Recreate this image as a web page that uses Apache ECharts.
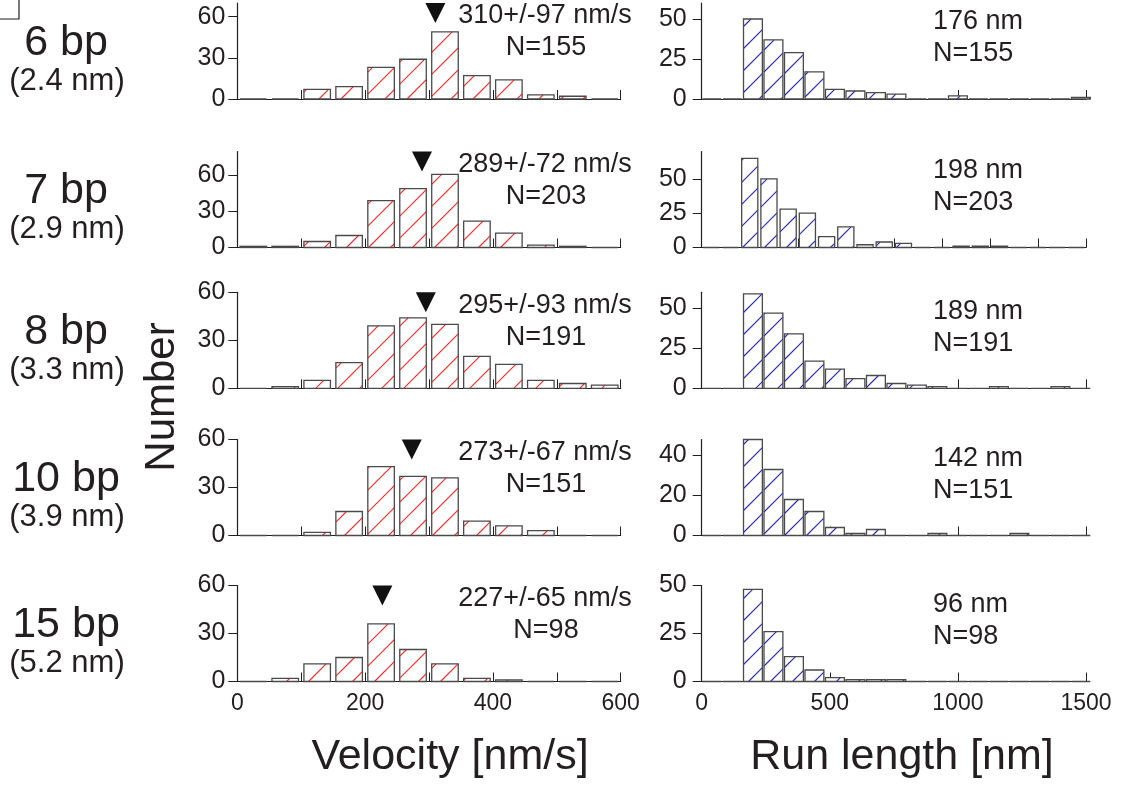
<!DOCTYPE html>
<html><head><meta charset="utf-8">
<script src="https://cdn.jsdelivr.net/npm/echarts@6/dist/echarts.min.js"></script>
<style>html,body{margin:0;padding:0;background:#fff}#c{width:1122px;height:787px}</style>
</head><body><div id="c"></div>
<script>
// ---------------- data ----------------
const rowLabels = ['6 bp', '7 bp', '8 bp', '10 bp', '15 bp'];
const rowSubLabels = ['(2.4 nm)', '(2.9 nm)', '(3.3 nm)', '(3.9 nm)', '(5.2 nm)'];
const sampleN = [155, 203, 191, 151, 98];

// velocity histograms, bins of 50 nm/s from 0 to 600
const velBin = 50;
const vel6bp  = [0, 0, 7, 9, 23, 29, 49, 17, 14, 3, 2, 0];
const vel7bp  = [1, 1, 5, 10, 39, 49, 61, 22, 12, 2, 1, 0];
const vel8bp  = [0, 1, 5, 16, 39, 44, 40, 20, 15, 5, 3, 2];
const vel10bp = [0, 0, 2, 15, 43, 37, 36, 9, 6, 3, 0, 0];
const vel15bp = [0, 2, 11, 15, 36, 20, 11, 2, 1, 0, 0, 0];
const velMean = [310, 289, 295, 273, 227];
const velSD   = [97, 72, 93, 67, 65];

// run length histograms
const runBin = [80, 75, 80, 80, 80];
const run6bp  = [0, 0, 50, 37, 29, 17, 6, 5, 4, 3, 0, 0, 2, 0, 0, 0, 0, 0, 1];
const run7bp  = [0, 0, 65, 50, 28, 25, 8, 15, 2, 4, 3, 0, 0, 1, 1, 1, 0, 0, 0, 0];
const run8bp  = [0, 0, 59, 47, 34, 17, 12, 6, 8, 3, 2, 1, 0, 0, 1, 0, 0, 1, 0];
const run10bp = [0, 0, 48, 33, 18, 12, 4, 1, 3, 0, 0, 1, 0, 0, 0, 1, 0, 0, 0];
const run15bp = [0, 0, 48, 26, 13, 6, 2, 1, 1, 1, 0, 0, 0, 0, 0, 0, 0, 0, 0];
const runMean = [176, 198, 189, 142, 96];

// axes
const velYMax = [70, 80, 60, 60, 60];
const runYMax = [60, 70, 60, 48, 50];
const velYTicks = [0, 30, 60];
const runYTicks = [[0, 25, 50], [0, 25, 50], [0, 25, 50], [0, 20, 40], [0, 25, 50]];
const velXTicks = [0, 100, 200, 300, 400, 500, 600];
const velXLabels = [0, 200, 400, 600];
const runXTicks = [[0, 500, 1000, 1500], [0, 187.5, 375, 562.5, 750, 937.5, 1125, 1312.5, 1500],
                   [0, 500, 1000, 1500], [0, 500, 1000, 1500], [0, 500, 1000, 1500]];
const runXLabels = [0, 500, 1000, 1500];

const velData = [vel6bp, vel7bp, vel8bp, vel10bp, vel15bp];
const runData = [run6bp, run7bp, run8bp, run10bp, run15bp];

// ---------------- layout / style ----------------
const rowTop = [3, 151.5, 292.3, 439.5, 585.5];
const rowH = 96;
const leftX = 237.3, leftW = 383.4;
const rightX = 701.7, rightW = 384.3;
const ink = '#231f20';
const FONT = 'Arial, "Liberation Sans", Helvetica, sans-serif';
const HATCH_SP = 22;
const RED = 'rgb(255,40,40)';
const BLUE = 'rgb(40,40,190)';

function histSeries(idx, counts, binW, frac, hatchColor) {
  return {
    type: 'custom', xAxisIndex: idx, yAxisIndex: idx, clip: false, silent: true,
    itemStyle: { color: hatchColor },
    data: counts.map((c, i) => [i * binW, (i + 1) * binW, c]),
    encode: { x: [0, 1], y: 2 },
    renderItem: (params, api) => {
      const p0 = api.coord([api.value(0), 0]);
      const p1 = api.coord([api.value(1), api.value(2)]);
      const w = p1[0] - p0[0];
      const ins = w * (1 - frac) / 2;
      const x0 = p0[0] + ins, x1 = p1[0] - ins, y0 = p1[1], y1 = p0[1];
      const children = [{
        type: 'rect', shape: { x: x0, y: y0, width: x1 - x0, height: y1 - y0 },
        style: { fill: '#ffffff', stroke: null }
      }];
      if (y1 - y0 > 0.5) {
        const pts = [];
        for (let c = Math.ceil((x0 + y0) / HATCH_SP) * HATCH_SP; c <= x1 + y1; c += HATCH_SP) {
          const xa = Math.max(x0, c - y1), xb = Math.min(x1, c - y0);
          if (xb - xa > 0.3) pts.push([xa, c - xa, xb, c - xb]);
        }
        pts.forEach(p => children.push({
          type: 'polyline', shape: { points: [[p[0], p[1]], [p[2], p[3]]] },
          style: { stroke: hatchColor, fill: null, lineWidth: 1.1, opacity: 1 }
        }));
      }
      children.push({
        type: 'rect', shape: { x: x0, y: y0, width: x1 - x0, height: y1 - y0 },
        style: { fill: null, stroke: '#4a4a4a', lineWidth: 1.3 }
      });
      return { type: 'group', children: children };
    }
  };
}

const grids = [], xAxes = [], yAxes = [], series = [], graphics = [];
for (let r = 0; r < 5; r++) {
  grids.push({ left: leftX, top: rowTop[r], width: leftW, height: rowH });
  grids.push({ left: rightX, top: rowTop[r], width: rightW, height: rowH });
}
function xAxis(gi, max, ticks, labels, show) {
  return {
    type: 'value', gridIndex: gi, min: 0, max: max,
    axisLine: { show: true, onZero: false, lineStyle: { color: ink, width: 1.2 } },
    axisTick: { show: true, inside: true, length: 9, customValues: ticks, lineStyle: { color: ink, width: 1 } },
    axisLabel: { show: show, customValues: labels, margin: 11, fontSize: 23, color: ink, fontFamily: FONT,
                 formatter: v => String(v) },
    splitLine: { show: false }
  };
}
function yAxis(gi, max, ticks, margin) {
  return {
    type: 'value', gridIndex: gi, min: 0, max: max,
    axisLine: { show: true, lineStyle: { color: ink, width: 1.2 } },
    axisTick: { show: true, inside: false, length: 9, customValues: ticks, lineStyle: { color: ink, width: 1 } },
    axisLabel: { show: true, customValues: ticks, margin: margin, fontSize: 25, color: ink, fontFamily: FONT,
                 formatter: v => String(v) },
    splitLine: { show: false }
  };
}
const txt = (text, x, y, size, align) => ({
  type: 'text', x: x, y: y, silent: true,
  style: { text: text, font: size + 'px ' + FONT, fill: ink,
           align: align, verticalAlign: 'middle', textAlign: align, textVerticalAlign: 'middle' }
});
for (let r = 0; r < 5; r++) {
  const last = r === 4;
  const li = 2 * r, ri = 2 * r + 1;
  xAxes[li] = xAxis(li, 600, velXTicks, velXLabels, last);
  xAxes[ri] = xAxis(ri, 1500, runXTicks[r], runXLabels, last);
  yAxes[li] = yAxis(li, velYMax[r], velYTicks, 12);
  yAxes[ri] = yAxis(ri, runYMax[r], runYTicks[r], 15);

  series.push(histSeries(li, velData[r], velBin, 0.83, RED));
  series.push(histSeries(ri, runData[r], runBin[r], r === 1 ? 0.84 : 0.92, BLUE));
  series.push({
    type: 'scatter', xAxisIndex: li, yAxisIndex: li, clip: false, silent: true,
    data: [[velMean[r], velYMax[r]]],
    symbol: 'triangle', symbolRotate: 180, symbolSize: [20, 20], symbolOffset: [0, 10],
    itemStyle: { color: '#111111', opacity: 1 }
  });

  const t = rowTop[r];
  graphics.push(txt(velMean[r] + '+/-' + velSD[r] + ' nm/s', 545, t + 13, 27, 'center'));
  graphics.push(txt('N=' + sampleN[r], 546, t + 45, 27, 'center'));
  graphics.push(txt(runMean[r] + ' nm', 933, t + 19, 27, 'left'));
  graphics.push(txt('N=' + sampleN[r], 933, t + 51, 27, 'left'));
  graphics.push(txt(rowLabels[r], 66, t + 40, 43, 'center'));
  graphics.push(txt(rowSubLabels[r], 67, t + 78, 31, 'center'));
}
graphics.push(Object.assign(txt('Number', 162, 397, 42, 'center'), { rotation: Math.PI / 2 }));
graphics.push(txt('Velocity [nm/s]', 450, 757, 43, 'center'));
graphics.push(txt('Run length [nm]', 902, 757, 43, 'center'));
graphics.push({
  type: 'polyline', silent: true,
  shape: { points: [[0, 19], [19, 19], [19, 0]] },
  style: { stroke: ink, lineWidth: 1.2, fill: null }
});

const chart = echarts.init(document.getElementById('c'), null, { renderer: 'canvas' });
chart.setOption({
  animation: false,
  backgroundColor: '#fff',
  grid: grids,
  xAxis: xAxes,
  yAxis: yAxes,
  series: series,
  graphic: graphics
});
</script>
</body></html>
